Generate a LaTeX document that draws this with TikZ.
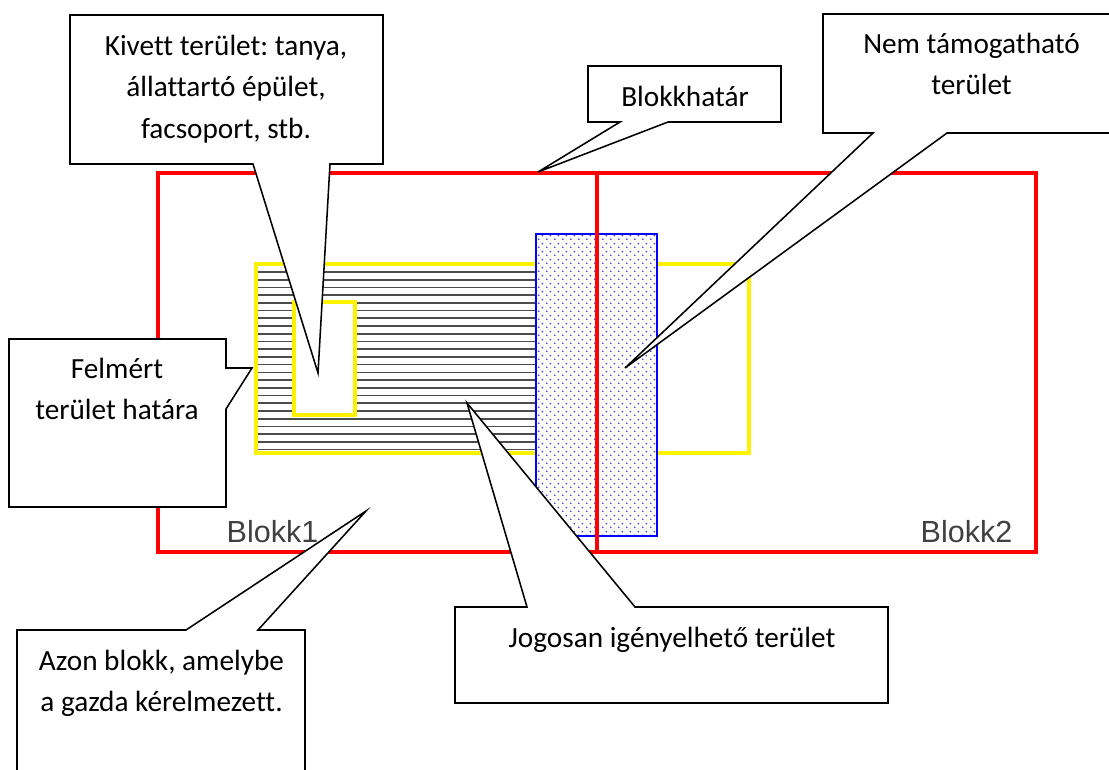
\documentclass[tikz,border=0pt]{standalone}
\usepackage{fontspec}
\setmainfont{Carlito}[Ligatures=NoCommon]
\newfontfamily\arialfont{Liberation Sans}
\frenchspacing
\usetikzlibrary{patterns}
\pgfdeclarepatternformonly{bluedots}{\pgfpointorigin}{\pgfqpoint{5.7pt}{5.7pt}}{\pgfqpoint{5.7pt}{5.7pt}}{%
  \pgfpathcircle{\pgfqpoint{1.4pt}{1.4pt}}{0.7pt}
  \pgfpathcircle{\pgfqpoint{4.25pt}{4.25pt}}{0.7pt}
  \pgfusepath{fill}
}
\tikzstyle{callout}=[%
  draw,
  fill=white,
  line width=1.1pt,
  line join=miter
]
\tikzstyle{callouttext}=[%
  font={\fontsize{20.8}{29.5}\selectfont},
  align=center,
  inner sep=0pt
]
\tikzstyle{blokkname}=[%
  font={\arialfont\fontsize{21.7}{26}\selectfont},
  text=black!75,
  anchor=base,
  inner sep=0pt
]
\tikzstyle{blokkline}=[draw=red, line width=2.2pt]
\tikzstyle{felmert}=[draw=yellow, line width=2.2pt]
\tikzstyle{hatch}=[black!70, line width=1.2pt]

\begin{document}
\begin{tikzpicture}[x=0.025cm, y=-0.025cm]
    \useasboundingbox (0,0) rectangle (1109,769);

    % felmert terulet
    \draw[felmert] (256,264) rectangle (749,453);
    \foreach \i in {0,...,23} {%
      \draw[hatch] (257,272+\i*7.72) -- (537,272+\i*7.72);
    }
    \draw[felmert] (256,264) -- (537,264);
    \draw[felmert] (256,453) -- (537,453);
    \draw[felmert] (256,264) -- (256,453);
    \draw[felmert, fill=white] (294,302) rectangle (355,415);

    % nem tamogathato
    \fill[white] (536,234) rectangle (657,536);
    \fill[pattern=bluedots, pattern color=blue!80] (536,234) rectangle (657,536);
    \draw[blue, line width=1.2pt] (536,234) rectangle (657,536);

    % blokkok
    \draw[blokkline] (158,173) rectangle (1036,552);
    \draw[blokkline] (597,173) -- (597,552);
    \node[blokkname] (blokk1) at (272.5,542) {Blokk1};
    \node[blokkname] (blokk2) at (966.5,542) {Blokk2};

    % hegyek
    \coordinate (kivett tip) at (318,373);
    \coordinate (hatar tip) at (538,172);
    \coordinate (nem tip) at (625,368);
    \coordinate (felmert tip) at (252,368);
    \coordinate (azon tip) at (366,511);
    \coordinate (jogos tip) at (467,403);

    \draw[callout] (70,15) -- (383,15) -- (383,164) -- (330,164) -- (kivett tip)
      -- (253,164) -- (70,164) -- cycle;
    \draw[callout] (588,66) -- (781,66) -- (781,122) -- (668,122) -- (hatar tip)
      -- (620,122) -- (588,122) -- cycle;
    \draw[callout] (823,14) -- (1140,14) -- (1140,133) -- (947,133) -- (nem tip)
      -- (873,133) -- (823,133) -- cycle;
    \draw[callout] (9,339) -- (226,339) -- (226,368) -- (felmert tip) -- (226,409)
      -- (226,507) -- (9,507) -- cycle;
    \draw[callout] (17,630) -- (186,630) -- (azon tip) -- (258,630) -- (305,630)
      -- (305,800) -- (17,800) -- cycle;
    \draw[callout] (455,607) -- (527,607) -- (jogos tip) -- (635,607) -- (888,607)
      -- (888,703) -- (455,703) -- cycle;

    \node[callouttext] (kivett) at (226,89) {Kivett terület: tanya,\\állattartó épület,\\facsoport, stb.};
    \node[callouttext, anchor=base] (hatar) at (685,106) {Blokkhatár};
    \node[callouttext] (nem) at (971.5,64) {Nem támogatható\\terület};
    \node[callouttext] (felmertszoveg) at (117,389) {Felmért\\terület határa};
    \node[callouttext] (azon) at (161.5,683.5) {Azon blokk, amelybe\\a gazda kérelmezett.};
    \node[callouttext, anchor=base] (jogos) at (672,647) {Jogosan igényelhető terület};
  \end{tikzpicture}
\end{document}
